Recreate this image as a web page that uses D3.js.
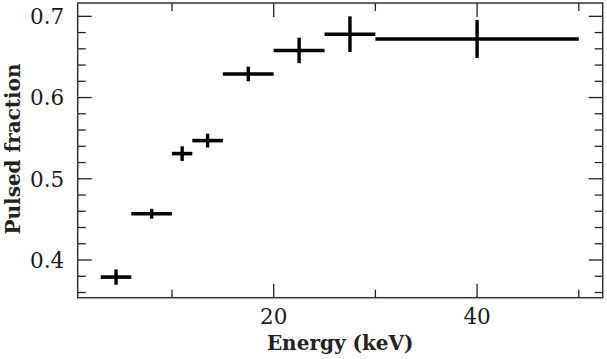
<!DOCTYPE html>
<html>
<head>
<meta charset="utf-8">
<script src="https://cdn.jsdelivr.net/npm/d3@7"></script>
<style>
  body { margin: 0; background: #fff; }
</style>
</head>
<body>
<script>
// Energy bins (keV) and pulsed fraction with errors
var binLow = [3, 6, 10, 12, 15, 20, 25, 30];
var binHigh = [6, 10, 12, 15, 20, 25, 30, 50];
var energy = [4.5, 8, 11, 13.5, 17.5, 22.5, 27.5, 40];
var pulsedFraction = [0.379, 0.457, 0.531, 0.547, 0.629, 0.658, 0.678, 0.672];
var pfError = [0.0094, 0.006, 0.009, 0.0085, 0.009, 0.0157, 0.022, 0.0234];
var xMajorTicks = [20, 40];
var xMinorTicks = [10, 30, 50];
var yMajorTicks = [0.4, 0.5, 0.6, 0.7];
var yMinorTicks = [0.36, 0.38, 0.42, 0.44, 0.46, 0.48, 0.52, 0.54, 0.56, 0.58, 0.62, 0.64, 0.66, 0.68];

var points = energy.map(function (e, i) { return {
    x: e, lo: binLow[i], hi: binHigh[i], y: pulsedFraction[i], err: pfError[i]
}; });

var W = 607, H = 359;
var margin = { left: 77.7, top: 3, right: 4.3, bottom: 61.3 };
var w = W - margin.left - margin.right;
var h = H - margin.top - margin.bottom;

var svg = d3.select('body').append('svg')
    .attr('width', W)
    .attr('height', H);

var g = svg.append('g')
    .attr('transform', 'translate(' + margin.left + ',' + margin.top + ')');

var x = d3.scaleLinear().domain([0.73, 52.35]).range([0, w]);
var y = d3.scaleLinear().domain([0.3536, 0.7164]).range([h, 0]);

var fontTicks = '"DejaVu Serif", serif';
var tickColor = '#222';

// ticks on all four sides, pointing inward
function xTicks(vals, len) {
    vals.forEach(function (v) {
        g.append('line').attr('x1', x(v)).attr('x2', x(v)).attr('y1', h).attr('y2', h - len)
            .attr('stroke', tickColor).attr('stroke-width', 1.3);
        g.append('line').attr('x1', x(v)).attr('x2', x(v)).attr('y1', 0).attr('y2', len)
            .attr('stroke', tickColor).attr('stroke-width', 1.3);
    });
}
function yTicks(vals, len) {
    vals.forEach(function (v) {
        g.append('line').attr('x1', 0).attr('x2', len).attr('y1', y(v)).attr('y2', y(v))
            .attr('stroke', tickColor).attr('stroke-width', 1.3);
        g.append('line').attr('x1', w).attr('x2', w - len).attr('y1', y(v)).attr('y2', y(v))
            .attr('stroke', tickColor).attr('stroke-width', 1.3);
    });
}
xTicks(xMajorTicks, 14);
xTicks(xMinorTicks, 8);
yTicks(yMajorTicks, 14);
yTicks(yMinorTicks, 8);

// frame
g.append('rect')
    .attr('x', 0).attr('y', 0).attr('width', w).attr('height', h)
    .attr('fill', 'none').attr('stroke', '#333').attr('stroke-width', 1.5);

// tick labels
g.selectAll('.xlab')
    .data(xMajorTicks)
    .enter().append('text')
    .attr('x', function (d) { return x(d); })
    .attr('y', h + 26)
    .attr('text-anchor', 'middle')
    .attr('font-family', fontTicks)
    .attr('font-size', '21.5px')
    .attr('fill', '#1a1a1a')
    .text(function (d) { return d; });

g.selectAll('.ylab')
    .data(yMajorTicks)
    .enter().append('text')
    .attr('x', -13.5)
    .attr('y', function (d) { return y(d); })
    .attr('dy', '0.36em')
    .attr('text-anchor', 'end')
    .attr('font-family', fontTicks)
    .attr('font-size', '21.5px')
    .attr('fill', '#1a1a1a')
    .text(function (d) { return d.toFixed(1); });

// axis titles
svg.append('text')
    .attr('x', margin.left + w / 2)
    .attr('y', 349.5)
    .attr('text-anchor', 'middle')
    .attr('font-family', fontTicks)
    .attr('font-weight', 'bold')
    .attr('font-size', '20px')
    .attr('fill', '#222')
    .text('Energy (keV)');

svg.append('text')
    .attr('transform', 'translate(19.5,149) rotate(-90)')
    .attr('text-anchor', 'middle')
    .attr('font-family', fontTicks)
    .attr('font-weight', 'bold')
    .attr('font-size', '20px')
    .attr('fill', '#222')
    .text('Pulsed fraction');

// error bars: horizontal = energy bin, vertical = pulsed fraction error
var marks = g.append('g');
marks.selectAll('.hbar')
    .data(points)
    .enter().append('line')
    .attr('x1', function (d) { return x(d.lo); })
    .attr('x2', function (d) { return x(d.hi); })
    .attr('y1', function (d) { return y(d.y); })
    .attr('y2', function (d) { return y(d.y); })
    .attr('stroke', '#000')
    .attr('stroke-width', 3.6);
marks.selectAll('.vbar')
    .data(points)
    .enter().append('line')
    .attr('x1', function (d) { return x(d.x); })
    .attr('x2', function (d) { return x(d.x); })
    .attr('y1', function (d) { return y(d.y - d.err); })
    .attr('y2', function (d) { return y(d.y + d.err); })
    .attr('stroke', '#000')
    .attr('stroke-width', 3.4);
</script>
</body>
</html>
